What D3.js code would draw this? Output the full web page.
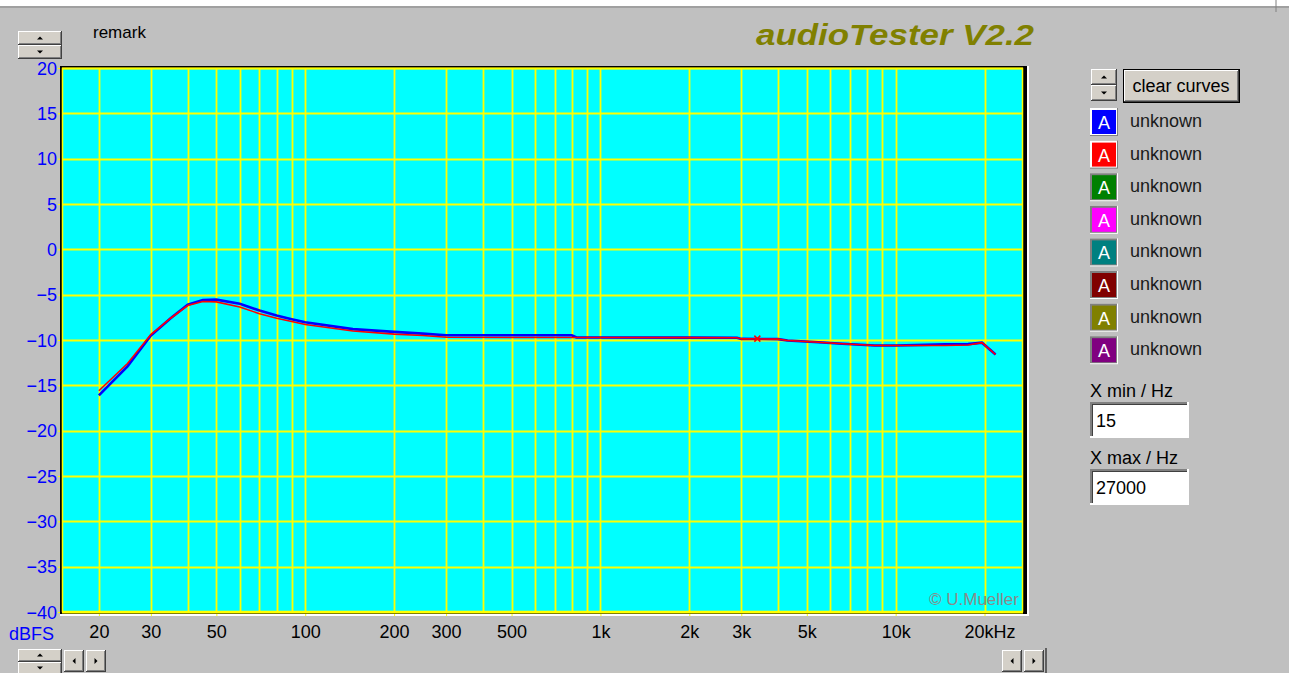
<!DOCTYPE html>
<html><head><meta charset="utf-8">
<script src="https://cdn.jsdelivr.net/npm/d3@7"></script>
<style>html,body{margin:0;padding:0;background:#c0c0c0;overflow:hidden}svg{display:block}text{font-family:"Liberation Sans",Arial,sans-serif}</style>
</head><body>
<script>
// ---- data ----
const freqs = [20, 25, 30, 35, 40, 45, 50, 60, 70, 80, 90, 100, 145, 200, 250, 300, 500, 800, 830, 1000, 2000, 2900, 3000, 4000, 4300, 5300, 6600, 8500, 10000, 14700, 17600, 19600, 21800];
const blueDb = [-16.1, -12.9, -9.5, -7.6, -6.1, -5.6, -5.55, -6.0, -6.75, -7.3, -7.7, -8.05, -8.8, -9.1, -9.3, -9.48, -9.48, -9.48, -9.72, -9.72, -9.74, -9.76, -9.88, -9.9, -10.05, -10.22, -10.42, -10.6, -10.6, -10.48, -10.45, -10.3, -11.6];
const redDb  = [-15.6, -12.6, -9.4, -7.6, -6.2, -5.75, -5.8, -6.35, -7.1, -7.6, -7.95, -8.3, -9.0, -9.35, -9.5, -9.7, -9.72, -9.72, -9.72, -9.72, -9.74, -9.76, -9.88, -9.9, -10.05, -10.22, -10.42, -10.6, -10.6, -10.6, -10.55, -10.3, -11.6];
const markerPt = {f: 3400, db: -9.85};
const yTicks = [20, 15, 10, 5, 0, -5, -10, -15, -20, -25, -30, -35, -40];
const xTickVals = [20, 30, 50, 100, 200, 300, 500, 1000, 2000, 3000, 5000, 10000, 20000];
const xTickLabels = ["20", "30", "50", "100", "200", "300", "500", "1k", "2k", "3k", "5k", "10k", "20kHz"];
const gridFreqs = [20,30,40,50,60,70,80,90,100,200,300,400,500,600,700,800,900,1000,2000,3000,4000,5000,6000,7000,8000,9000,10000,20000];
const legendColors = ["#0000ff", "#ff0000", "#008000", "#ff00ff", "#008080", "#800000", "#808000", "#800080"];
const legendLabels = ["unknown","unknown","unknown","unknown","unknown","unknown","unknown","unknown"];

const W = 1289, H = 673;
const svg = d3.select("body").append("svg").attr("width", W).attr("height", H);
svg.append("rect").attr("width", W).attr("height", H).attr("fill", "#c0c0c0");
// top white strip
svg.append("rect").attr("x",0).attr("y",0).attr("width",W).attr("height",6).attr("fill","#fff");
svg.append("rect").attr("x",0).attr("y",6).attr("width",W).attr("height",2).attr("fill","#a0a0a0");
svg.append("line").attr("x1",1276).attr("x2",1276).attr("y1",0).attr("y2",12).attr("stroke","#808080");

const L = 62, R = 1023, T = 68, B = 612;
const x = d3.scaleLog().domain([15, 27000]).range([L, R]);
const y = d3.scaleLinear().domain([-40, 20]).range([B, T]);

// frame
svg.append("rect").attr("x", L-2).attr("y", T-2).attr("width", R-L+8).attr("height", B-T+6).attr("fill", "#ffffff");
svg.append("rect").attr("x", L-2).attr("y", T-2).attr("width", R-L+6).attr("height", B-T+4).attr("fill", "#000");
svg.append("rect").attr("x", L).attr("y", T).attr("width", R-L).attr("height", B-T).attr("fill", "#00ffff");

// grid
const g = svg.append("g");
g.selectAll("line.v").data(gridFreqs).join("line")
  .attr("x1", d => Math.round(x(d))+0.5).attr("x2", d => Math.round(x(d))+0.5)
  .attr("y1", T).attr("y2", B).attr("stroke", "#ffff00").attr("stroke-width", 1.8);
g.selectAll("line.h").data(yTicks).join("line")
  .attr("x1", L).attr("x2", R)
  .attr("y1", d => Math.round(y(d))+0.5).attr("y2", d => Math.round(y(d))+0.5)
  .attr("stroke", "#ffff00").attr("stroke-width", 1.8);
svg.append("rect").attr("x", L+0.5).attr("y", T+0.5).attr("width", R-L-1).attr("height", B-T-1)
  .attr("fill","none").attr("stroke","#ffff00").attr("stroke-width",1.5);

// axes
const yAxis = svg.append("g").attr("transform", `translate(${L-2},0)`)
  .call(d3.axisLeft(y).tickValues(yTicks).tickSize(2).tickFormat(d3.format("d")));
yAxis.select(".domain").remove();
yAxis.selectAll(".tick line").attr("stroke", "#ffff00");
yAxis.selectAll(".tick text").attr("fill", "#0000ff").attr("font-size", 18).attr("x", -3).attr("dy", "0.35em")
  .attr("font-family", '"Liberation Sans", Arial, sans-serif');

const xAxis = svg.append("g").attr("transform", `translate(0,${B+2})`)
  .call(d3.axisBottom(x).tickValues(xTickVals).tickSize(2).tickFormat((d,i) => xTickLabels[i]));
xAxis.select(".domain").remove();
xAxis.selectAll(".tick line").attr("stroke", "#ffff00");
xAxis.selectAll(".tick text").attr("fill", "#000").attr("font-size", 18).attr("y", 11)
  .attr("font-family", '"Liberation Sans", Arial, sans-serif');
xAxis.selectAll(".tick").filter(d => d === 20000).select("text").attr("dx", 5);

svg.append("text").attr("x", 9).attr("y", 640).attr("fill", "#0000ff").attr("font-size", 18).text("dBFS");

// copyright
svg.append("text").attr("x", 1019).attr("y", 605).attr("text-anchor", "end").attr("fill", "#8a8a8a")
  .attr("font-size", 17).text("© U.Mueller");

// curves
const line = d3.line().x(d => x(d[0])).y(d => y(d[1]));
const clip = svg.append("clipPath").attr("id","pc").append("rect").attr("x",L).attr("y",T).attr("width",R-L).attr("height",B-T);
const curves = svg.append("g").attr("clip-path","url(#pc)");
curves.append("path").datum(freqs.map((f,i)=>[f, blueDb[i]])).attr("d", line)
  .attr("fill","none").attr("stroke","#0000ff").attr("stroke-width",2.6);
curves.append("path").datum(freqs.map((f,i)=>[f, redDb[i]])).attr("d", line)
  .attr("fill","none").attr("stroke","#ff0000").attr("stroke-width",1.6);
const mx = x(markerPt.f), my = y(markerPt.db);
curves.append("path").attr("d", `M${mx-3},${my-3}L${mx+3},${my+3}M${mx-3},${my+3}L${mx+3},${my-3}`)
  .attr("stroke","#ff0000").attr("stroke-width",1.5);

// title & remark
svg.append("text").attr("x", 756).attr("y", 45).attr("fill", "#808000").attr("font-size", 29)
  .attr("font-weight", "bold").attr("font-style", "italic").attr("textLength", 278)
  .attr("lengthAdjust","spacingAndGlyphs").text("audioTester V2.2");
svg.append("text").attr("x", 93).attr("y", 38).attr("fill", "#000").attr("font-size", 17).text("remark");

// win95 button helper
function button(x0, y0, w, h, pressed) {
  const gb = svg.append("g");
  gb.append("rect").attr("x",x0).attr("y",y0).attr("width",w).attr("height",h).attr("fill", pressed ? "#000" : "#404040");
  gb.append("rect").attr("x",x0).attr("y",y0).attr("width",w-1).attr("height",h-1).attr("fill","#ffffff");
  gb.append("rect").attr("x",x0+1).attr("y",y0+1).attr("width",w-2).attr("height",h-2).attr("fill","#808080");
  gb.append("rect").attr("x",x0+1).attr("y",y0+1).attr("width",w-3).attr("height",h-3).attr("fill","#d4d0c8");
  return gb;
}
function arrow(cx, cy, dir) {
  const s = 3;
  let p;
  if (dir==="up") p = `M${cx-s},${cy+1.5}L${cx+s},${cy+1.5}L${cx},${cy-1.5}Z`;
  if (dir==="down") p = `M${cx-s},${cy-1.5}L${cx+s},${cy-1.5}L${cx},${cy+1.5}Z`;
  if (dir==="left") p = `M${cx+1.5},${cy-s}L${cx+1.5},${cy+s}L${cx-1.5},${cy}Z`;
  if (dir==="right") p = `M${cx-1.5},${cy-s}L${cx-1.5},${cy+s}L${cx+1.5},${cy}Z`;
  svg.append("path").attr("d",p).attr("fill","#000");
}
// top-left spinner
button(18, 31, 44, 14); arrow(40, 38, "up");
button(18, 45, 44, 14); arrow(40, 52, "down");
// bottom-left spinner
svg.append("rect").attr("x",18).attr("y",649).attr("width",44).attr("height",24).attr("fill","#404040");
button(18, 649, 44, 13); arrow(40, 655, "up");
button(18, 662, 44, 13); arrow(40, 668, "down");
button(64, 650, 20, 22); arrow(74, 661, "left");
button(86, 650, 20, 22); arrow(96, 661, "right");
// bottom-right scroll
button(1002, 650, 20, 22); arrow(1012, 661, "left");
button(1024, 650, 20, 22); arrow(1034, 661, "right");
svg.append("line").attr("x1",1046).attr("x2",1046).attr("y1",648).attr("y2",673).attr("stroke","#404040").attr("stroke-width",1.5);

// right panel spinner + clear curves
button(1091, 69, 26, 16); arrow(1104, 77, "up");
button(1091, 85, 26, 16); arrow(1104, 93, "down");
svg.append("rect").attr("x",1123).attr("y",69).attr("width",117).attr("height",34).attr("fill","#000");
button(1124, 70, 115, 32);
svg.append("text").attr("x", 1181).attr("y", 92).attr("text-anchor","middle").attr("font-size", 18).attr("fill","#000").text("clear curves");

// legend
const lg = svg.append("g");
const items = lg.selectAll("g").data(legendColors).join("g")
  .attr("transform", (d,i) => `translate(1090,${108 + i*32.6})`);
items.append("rect").attr("x",0).attr("y",0).attr("width",28).attr("height",28).attr("fill", (d,i)=> i<2 ? "#808080" : "#ffffff");
items.append("rect").attr("x",0).attr("y",0).attr("width",27).attr("height",27).attr("fill", (d,i)=> i<2 ? "#ffffff" : "#808080");
items.append("rect").attr("x",2).attr("y",2).attr("width",24).attr("height",24).attr("fill", d => d);
items.append("text").attr("x",14).attr("y",21).attr("text-anchor","middle").attr("fill","#fff")
  .attr("font-size",18).attr("font-family",'"DejaVu Sans Mono", monospace').text("A");
items.append("text").attr("x",40).attr("y",19).attr("fill","#1a1a1a").attr("font-size",18)
  .text((d,i)=>legendLabels[i]);

// X min / X max
function field(label, value, y0) {
  svg.append("text").attr("x",1090).attr("y",y0).attr("font-size",18).attr("fill","#000").text(label);
  svg.append("rect").attr("x",1090).attr("y",y0+5).attr("width",99).attr("height",36).attr("fill","#ffffff");
  svg.append("rect").attr("x",1090).attr("y",y0+5).attr("width",97).attr("height",34).attr("fill","#808080");
  svg.append("rect").attr("x",1092).attr("y",y0+7).attr("width",95).attr("height",32).attr("fill","#404040");
  svg.append("rect").attr("x",1093).attr("y",y0+8).attr("width",94).attr("height",31).attr("fill","#ffffff");
  svg.append("text").attr("x",1096).attr("y",y0+30).attr("font-size",18).attr("fill","#000").text(value);
}
field("X min / Hz", "15", 397);
field("X max / Hz", "27000", 464);
</script>
</body></html>
